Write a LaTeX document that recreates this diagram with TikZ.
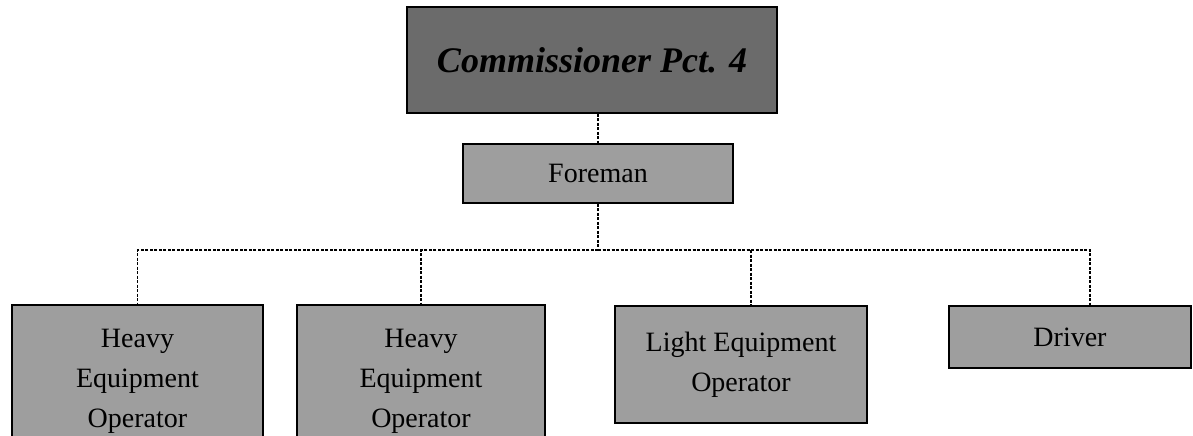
\documentclass[tikz,border=0pt]{standalone}
\usepackage{fontspec}
\setmainfont{Liberation Serif}

\begin{document}
\begin{tikzpicture}[x=1pt, y=-1pt,
  box/.style={draw, line width=1.5pt, fill=black!38, inner sep=0pt, align=center, font=\fontsize{28}{40}\selectfont},
  link/.style={line width=1.6pt, dash pattern=on 3pt off 1.5pt}]
\useasboundingbox (0, 0) rectangle (1193, 436);

\node [box, fill=black!58, minimum width=370pt, minimum height=106pt, font=\fontsize{36}{40}\selectfont\bfseries\itshape] (comm) at (592, 60) {Commissioner Pct. 4};
\node [box, minimum width=270pt, minimum height=59pt] (fore) at (598, 173.5) {Foreman};

\node [box, minimum width=251pt, minimum height=152pt] (hv1) at (137.5, 381) {Heavy\\Equipment\\Operator};
\node [box, minimum width=248pt, minimum height=152pt] (hv2) at (421, 381) {Heavy\\Equipment\\Operator};
\node [box, minimum width=252pt, minimum height=117pt] (lt) at (741, 364.5) {Light Equipment\\Operator};
\node [box, minimum width=242pt, minimum height=62pt] (drv) at (1070, 337) {Driver};

\coordinate (bus) at (598, 250);
\draw [link] (comm.south -| fore.north) -- (fore.north);
\draw [link] (fore.south) -- (bus);
\draw [link] (bus) -| (hv1.north);
\draw [link] (bus) -| (hv2.north);
\draw [link] (bus) -| ([xshift=10pt]lt.north);
\draw [link] (bus) -| ([xshift=20pt]drv.north);
\end{tikzpicture}
\end{document}
